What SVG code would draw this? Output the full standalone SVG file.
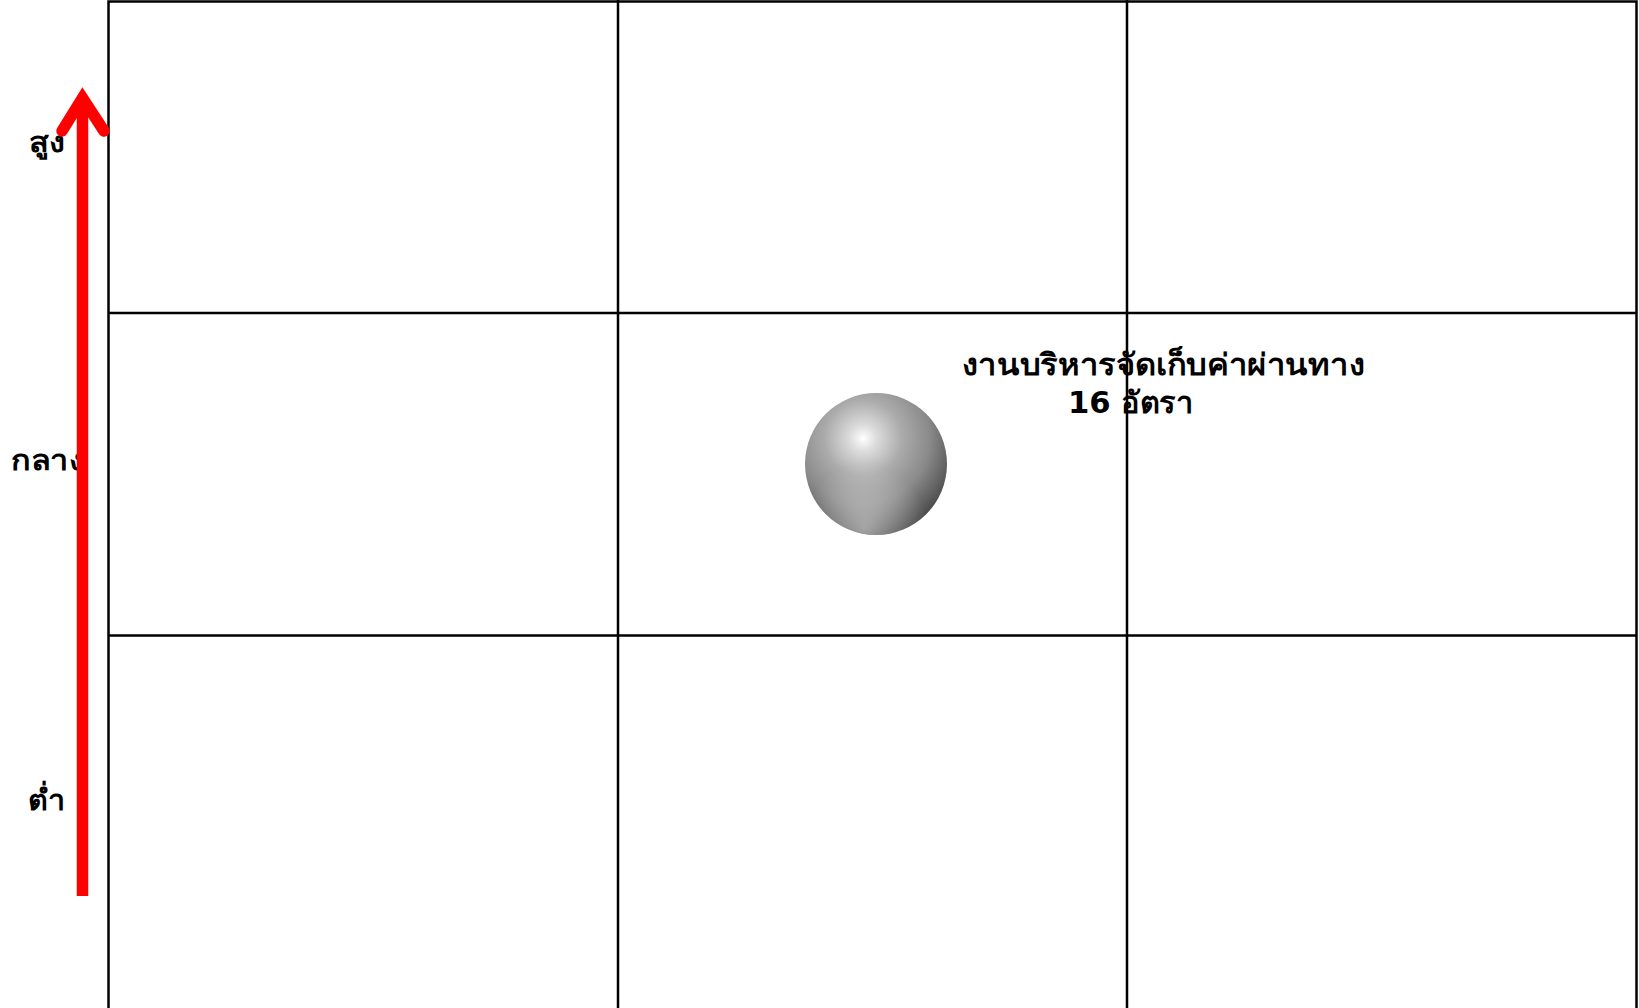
<svg xmlns="http://www.w3.org/2000/svg" width="1639" height="1008" viewBox="0 0 1639 1008">
<style>
.grid{stroke:#000;stroke-width:2.5;fill:none}
.lbl{font-family:"DejaVu Sans","Noto Sans",sans-serif;font-weight:bold;fill:#000}
</style>
<defs>
<radialGradient id="ball" cx="0.41" cy="0.32" r="0.78" fx="0.41" fy="0.32">
<stop offset="0" stop-color="#ffffff"/>
<stop offset="0.12" stop-color="#dcdcdc"/>
<stop offset="0.35" stop-color="#ababab"/>
<stop offset="0.6" stop-color="#8a8a8a"/>
<stop offset="0.82" stop-color="#5a5a5a"/>
<stop offset="1" stop-color="#333333"/>
</radialGradient>
<radialGradient id="refl" cx="0.42" cy="0.95" r="0.45">
<stop offset="0" stop-color="#ffffff" stop-opacity="0.45"/>
<stop offset="1" stop-color="#ffffff" stop-opacity="0"/>
</radialGradient>
<clipPath id="ballclip"><circle cx="876" cy="464" r="71"/></clipPath>
</defs>
<rect width="1639" height="1008" fill="#fff"/>
<g id="grid">
<rect class="grid" x="108.5" y="1.5" width="1528" height="1010"/>
<line class="grid" x1="618" y1="0" x2="618" y2="1008"/>
<line class="grid" x1="1127" y1="0" x2="1127" y2="1008"/>
<line class="grid" x1="108" y1="313" x2="1637" y2="313"/>
<line class="grid" x1="108" y1="635.5" x2="1637" y2="635.5"/>
</g>
<g id="axis-labels">
<text class="lbl" x="29" y="152" font-size="28" textLength="36" lengthAdjust="spacingAndGlyphs">สูง</text>
<text class="lbl" x="11" y="470" font-size="28" textLength="74" lengthAdjust="spacingAndGlyphs">กลาง</text>
<text class="lbl" x="28" y="810" font-size="28" textLength="37" lengthAdjust="spacingAndGlyphs">ต่ำ</text>
</g>
<g id="connectors">
<line x1="82.5" y1="896" x2="82.5" y2="105" stroke="#f00" stroke-width="11.5"/>
<polyline points="62,131 82.5,98 104,131" fill="none" stroke="#f00" stroke-width="11.5" stroke-linecap="round" stroke-linejoin="miter" stroke-miterlimit="10"/>
</g>
<g id="node-toll">
<circle cx="876" cy="464" r="71" fill="url(#ball)"/>
<rect x="805" y="393" width="142" height="142" fill="url(#refl)" clip-path="url(#ballclip)"/>
<text class="lbl" x="962" y="375" font-size="30" textLength="403" lengthAdjust="spacingAndGlyphs">งานบริหารจัดเก็บค่าผ่านทาง</text>
<text class="lbl" x="1068" y="413" font-size="30" textLength="125" lengthAdjust="spacingAndGlyphs">16 อัตรา</text>
</g>
</svg>
